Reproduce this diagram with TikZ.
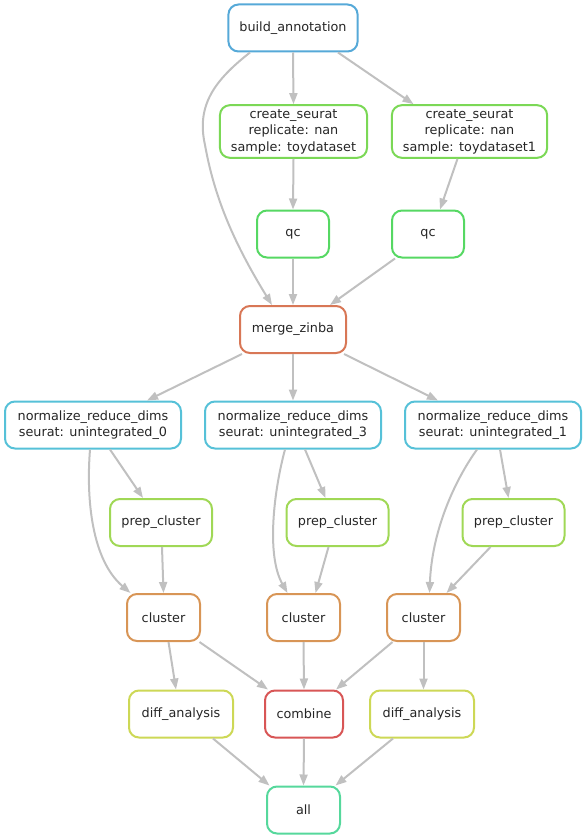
\documentclass[tikz,border=0pt]{standalone}
\usepackage{fontspec}
\setmainfont{DejaVu Sans}
\usetikzlibrary{arrows.meta}
\definecolor{cBuild}{HTML}{56A9D8}
\definecolor{cCreate}{HTML}{7BD856}
\definecolor{cQC}{HTML}{56D863}
\definecolor{cMerge}{HTML}{D87756}
\definecolor{cNorm}{HTML}{56C1D8}
\definecolor{cPrep}{HTML}{A0D856}
\definecolor{cClust}{HTML}{D89556}
\definecolor{cComb}{HTML}{D85656}
\definecolor{cDiff}{HTML}{CDD856}
\definecolor{cAll}{HTML}{56D89C}
\definecolor{edgegrey}{HTML}{C0C0C0}
\begin{document}
\begin{tikzpicture}[x=1pt,y=-1pt,
  rule/.style={draw=#1, line width=2pt, rounded corners=10pt, fill=white,
    minimum width=72pt, minimum height=47pt, inner xsep=11pt, inner ysep=4pt,
    align=center, font=\fontsize{12.8}{16.5}\selectfont, text=black!85},
  dep/.style={draw=edgegrey, line width=2pt,
    -{Triangle[length=11pt,width=8pt]}}]
\useasboundingbox (0,0) rectangle (587,840);

% rule nodes
\node[rule=cBuild] (b) at (293,28) {build\_annotation};
\node[rule=cCreate, minimum width=147pt] (c1) at (293.5,131.5) {create\_seurat\\replicate: nan\\sample: toydataset};
\node[rule=cCreate, minimum width=155pt] (c2) at (469.5,131.5) {create\_seurat\\replicate: nan\\sample: toydataset1};
\node[rule=cQC] (q1) at (293,234) {qc};
\node[rule=cQC] (q2) at (428,234) {qc};
\node[rule=cMerge, minimum width=106pt] (m) at (293,329.5) {merge\_zinba};
\node[rule=cNorm, minimum width=176pt] (n0) at (93,425) {normalize\_reduce\_dims\\seurat: unintegrated\_0};
\node[rule=cNorm, minimum width=176pt] (n3) at (293,425) {normalize\_reduce\_dims\\seurat: unintegrated\_3};
\node[rule=cNorm, minimum width=176pt] (n1) at (493,425) {normalize\_reduce\_dims\\seurat: unintegrated\_1};
\node[rule=cPrep, minimum width=102pt] (p1) at (161,522.5) {prep\_cluster};
\node[rule=cPrep, minimum width=102pt] (p2) at (337.5,522.5) {prep\_cluster};
\node[rule=cPrep, minimum width=102pt] (p3) at (513.5,522.5) {prep\_cluster};
\node[rule=cClust, minimum width=73pt] (k1) at (163.5,617.5) {cluster};
\node[rule=cClust, minimum width=73pt] (k2) at (303.5,617.5) {cluster};
\node[rule=cClust, minimum width=73pt] (k3) at (423.5,617.5) {cluster};
\node[rule=cDiff, minimum width=104pt] (d1) at (181,714) {diff\_analysis};
\node[rule=cComb, minimum width=78pt] (comb) at (304,714) {combine};
\node[rule=cDiff, minimum width=104pt] (d2) at (422,714) {diff\_analysis};
\node[rule=cAll, minimum width=73pt] (all) at (303.5,810) {all};

% dependencies
\draw[dep] (b.south) -- (c1.north);
\draw[dep] ([xshift=45pt]b.south) -- ([xshift=-56pt]c2.north);
\draw[dep] ([xshift=-43pt]b.south) .. controls (215,80) and (196,105) .. (205,145)
  .. controls (214,195) and (232,240) .. ([xshift=-21pt]m.north);
\draw[dep] (c1.south) -- (q1.north);
\draw[dep] ([xshift=-12pt]c2.south) -- ([xshift=12pt]q2.north);
\draw[dep] (q1.south) -- (m.north);
\draw[dep] ([xshift=-33pt]q2.south) -- ([xshift=37pt]m.north);
\draw[dep] ([xshift=-51pt]m.south) -- ([xshift=54pt]n0.north);
\draw[dep] (m.south) -- (n3.north);
\draw[dep] ([xshift=51pt]m.south) -- ([xshift=-55pt]n1.north);
\draw[dep] ([xshift=17pt]n0.south) -- ([xshift=-18pt]p1.north);
\draw[dep] ([xshift=-3pt]n0.south) .. controls (86,500) and (92,560) .. ([xshift=-33pt]k1.north);
\draw[dep] ([xshift=1pt]p1.south) -- (k1.north);
\draw[dep] ([xshift=12pt]n3.south) -- ([xshift=-12pt]p2.north);
\draw[dep] ([xshift=-8pt]n3.south) .. controls (274,490) and (266,555) .. ([xshift=-16pt]k2.north);
\draw[dep] ([xshift=-9pt]p2.south) -- ([xshift=12pt]k2.north);
\draw[dep] ([xshift=7pt]n1.south) -- ([xshift=-5pt]p3.north);
\draw[dep] ([xshift=-16pt]n1.south) .. controls (455,480) and (432,530) .. ([xshift=6pt]k3.north);
\draw[dep] ([xshift=-23pt]p3.south) -- ([xshift=23pt]k3.north);
\draw[dep] ([xshift=5pt]k1.south) -- ([xshift=-5pt]d1.north);
\draw[dep] ([xshift=36pt]k1.south) -- ([xshift=-36pt]comb.north);
\draw[dep] (k2.south) -- (comb.north);
\draw[dep] ([xshift=-31pt]k3.south) -- ([xshift=32pt]comb.north);
\draw[dep] (k3.south) -- ([xshift=1.5pt]d2.north);
\draw[dep] ([xshift=32pt]d1.south) -- ([xshift=-34pt]all.north);
\draw[dep] (comb.south) -- (all.north);
\draw[dep] ([xshift=-29pt]d2.south) -- ([xshift=32pt]all.north);
\end{tikzpicture}
\end{document}
